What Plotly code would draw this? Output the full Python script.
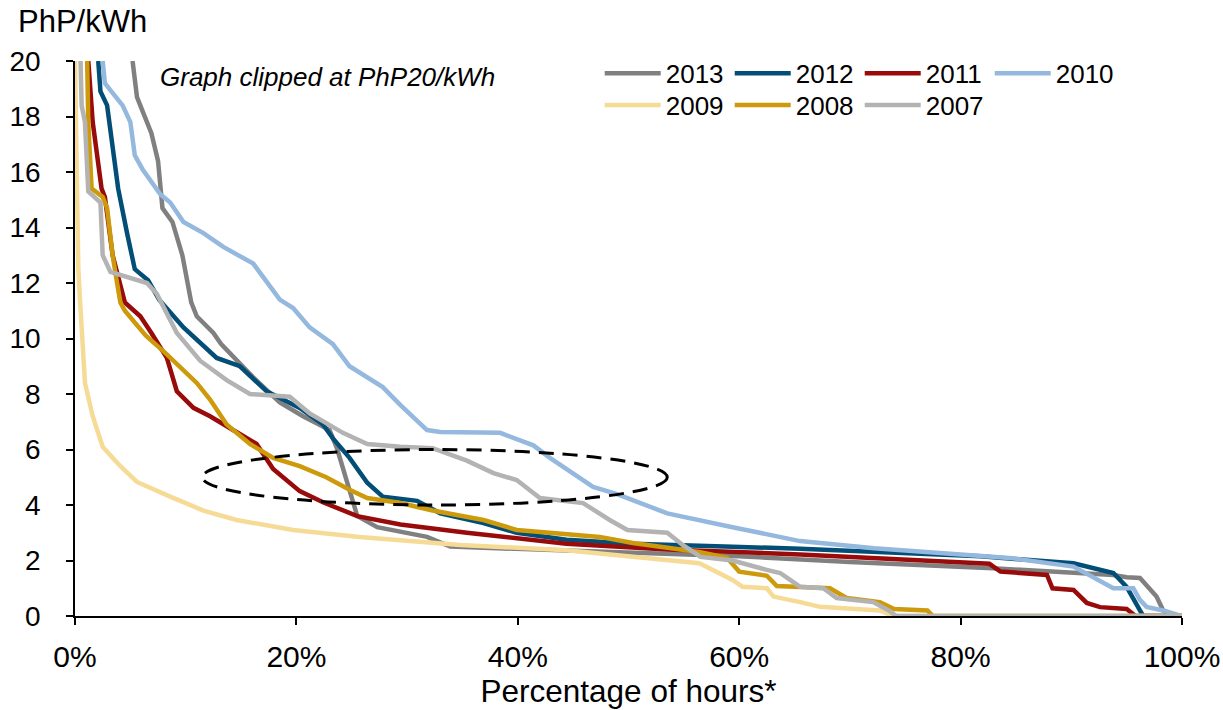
import plotly.graph_objects as go

# Percentage of hours (x, %) and price (PhP/kWh, y)
x2013 = [5.2, 5.6, 6.9, 7.5, 7.9, 8.8, 9.7, 10.2, 10.5, 11.0, 12.5, 13.2, 16.1, 18.5, 20.6, 23.0, 23.7, 24.6, 25.5, 27.3, 31.8, 33.9, 45.0, 60.0, 70.0, 82.9, 93.8, 95.0, 96.2, 97.7, 98.3, 99.4, 100.0]
y2013 = [20, 18.7, 17.4, 16.4, 14.7, 14.2, 13.0, 12.0, 11.3, 10.8, 10.2, 9.8, 8.6, 7.7, 7.2, 6.7, 6.0, 4.8, 3.6, 3.2, 2.85, 2.5, 2.35, 2.15, 1.95, 1.72, 1.48, 1.4, 1.37, 0.7, 0.2, 0, 0]

x2012 = [2.1, 2.3, 2.9, 3.3, 3.9, 4.7, 5.4, 6.6, 7.6, 9.8, 12.8, 14.9, 17.3, 20.3, 22.4, 23.3, 24.8, 26.4, 27.8, 30.9, 33.0, 36.9, 39.9, 44.4, 50.4, 59.4, 65.5, 81.8, 90.2, 93.8, 95.0, 96.2, 96.5, 100.0]
y2012 = [20, 18.9, 18.4, 17.2, 15.4, 13.8, 12.5, 12.1, 11.4, 10.4, 9.3, 9.0, 8.1, 7.5, 6.9, 6.4, 5.7, 4.8, 4.3, 4.15, 3.7, 3.35, 3.0, 2.75, 2.6, 2.5, 2.42, 2.15, 1.9, 1.55, 1.05, 0.2, 0, 0]

x2011 = [1.2, 1.6, 2.0, 2.4, 2.7, 3.4, 4.5, 5.9, 6.9, 8.3, 9.2, 10.7, 12.2, 14.3, 16.4, 17.9, 20.3, 22.4, 25.5, 29.4, 35.4, 44.4, 53.5, 65.5, 82.6, 83.6, 87.8, 88.3, 90.2, 91.4, 92.6, 95.0, 95.8, 100.0]
y2011 = [20, 17.8, 16.6, 15.4, 15.1, 13.0, 11.3, 10.8, 10.2, 9.3, 8.1, 7.5, 7.2, 6.7, 6.2, 5.3, 4.5, 4.1, 3.6, 3.3, 3.0, 2.6, 2.4, 2.22, 1.88, 1.6, 1.48, 1.0, 0.94, 0.47, 0.32, 0.25, 0, 0]

x2010 = [2.5, 2.7, 3.3, 4.3, 5.0, 5.4, 6.1, 7.7, 8.6, 9.8, 11.6, 13.4, 16.1, 18.5, 19.7, 21.2, 23.3, 24.8, 27.8, 29.4, 31.8, 33.0, 38.4, 41.4, 42.9, 46.8, 48.9, 53.5, 59.4, 65.5, 72.2, 84.7, 90.2, 92.6, 93.8, 95.6, 96.2, 96.8, 98.3, 100.0]
y2010 = [20, 19.2, 18.9, 18.4, 17.8, 16.6, 16.1, 15.2, 14.9, 14.2, 13.8, 13.3, 12.7, 11.4, 11.1, 10.4, 9.8, 9.0, 8.25, 7.6, 6.7, 6.63, 6.6, 6.15, 5.7, 4.65, 4.4, 3.7, 3.2, 2.7, 2.44, 2.08, 1.78, 1.23, 1.0, 1.0, 0.58, 0.33, 0.2, 0]

x2009 = [0.0, 0.2, 0.3, 0.45, 0.9, 1.6, 2.5, 4.1, 5.6, 8.6, 11.6, 14.6, 19.7, 25.7, 31.8, 34.8, 44.4, 56.4, 59.4, 60.3, 62.5, 63.1, 65.5, 67.3, 72.7, 73.9, 100.0]
y2009 = [20, 15, 12.5, 11.4, 8.4, 7.2, 6.1, 5.4, 4.83, 4.3, 3.8, 3.46, 3.1, 2.85, 2.67, 2.56, 2.37, 1.9, 1.3, 1.05, 1.0, 0.7, 0.5, 0.33, 0.2, 0, 0]

x2008 = [1.1, 1.2, 1.5, 2.5, 2.9, 3.4, 3.8, 4.1, 4.5, 6.4, 8.1, 11.0, 12.2, 13.7, 15.8, 17.9, 20.3, 22.7, 24.8, 26.4, 29.4, 32.3, 36.9, 39.9, 47.4, 50.4, 56.5, 58.9, 60.0, 62.5, 63.4, 68.2, 69.7, 72.7, 74.0, 77.0, 77.5, 100.0]
y2008 = [20, 17.8, 15.4, 15.1, 14.7, 13.0, 12.0, 11.3, 11.0, 10.1, 9.5, 8.4, 7.8, 6.9, 6.2, 5.7, 5.4, 5.0, 4.55, 4.25, 4.07, 3.8, 3.46, 3.1, 2.85, 2.63, 2.3, 2.1, 1.6, 1.45, 1.08, 1.0, 0.65, 0.5, 0.25, 0.2, 0, 0]

x2007 = [0.5, 0.6, 0.9, 1.2, 2.3, 2.5, 3.2, 6.5, 7.4, 9.2, 11.3, 13.7, 15.8, 19.4, 21.2, 24.2, 26.4, 29.4, 32.3, 35.4, 37.8, 39.9, 42.0, 45.9, 48.3, 49.9, 53.5, 54.9, 56.5, 59.4, 62.5, 63.7, 64.6, 65.5, 67.6, 68.8, 72.1, 73.5, 74.2, 100.0]
y2007 = [20, 18.4, 17.8, 15.3, 14.9, 13.0, 12.4, 12.0, 11.6, 10.2, 9.2, 8.5, 8.0, 7.9, 7.3, 6.6, 6.2, 6.1, 6.05, 5.6, 5.15, 4.9, 4.25, 4.07, 3.46, 3.1, 3.0, 2.56, 2.13, 2.0, 1.66, 1.55, 1.3, 1.05, 1.0, 0.65, 0.5, 0.2, 0, 0]

series_names = ["2013", "2012", "2011", "2010", "2009", "2008", "2007"]
series_x = [x2013, x2012, x2011, x2010, x2009, x2008, x2007]
series_y = [y2013, y2012, y2011, y2010, y2009, y2008, y2007]
series_colors = ["#808080", "#034E77", "#990A0A", "#95B8DE", "#F6DB96", "#CC9A0B", "#B3B3B3"]
series_legend_row = ["legend", "legend", "legend", "legend", "legend2", "legend2", "legend2"]

x_ticks = [0, 20, 40, 60, 80, 100]
y_ticks = [0, 2, 4, 6, 8, 10, 12, 14, 16, 18, 20]

FONT = "Arial, Liberation Sans, sans-serif"

fig = go.Figure()
for name, xs, ys, col, lg in zip(series_names, series_x, series_y, series_colors, series_legend_row):
    fig.add_trace(go.Scatter(x=xs, y=ys, mode="lines", name=name, legend=lg,
                             line=dict(color=col, width=4.5)))

fig.add_shape(type="circle", xref="x", yref="y", x0=11.5, x1=53.5, y0=4.0, y1=6.0,
              line=dict(color="black", width=3, dash="15px,9px"))

fig.add_annotation(text="Graph clipped at PhP20/kWh", xref="paper", yref="paper",
                   x=0.075, y=0.972, xanchor="left", yanchor="middle", showarrow=False,
                   font=dict(family=FONT, size=26, color="black", style="italic"))
fig.add_annotation(text="PhP/kWh", xref="paper", yref="paper",
                   x=-0.053, y=1.071, xanchor="left", yanchor="middle", showarrow=False,
                   font=dict(family=FONT, size=31, color="black"))

legend_common = dict(orientation="h", xanchor="left", yanchor="top",
                     entrywidth=59, entrywidthmode="pixels", itemwidth=56,
                     font=dict(family=FONT, size=26, color="black"),
                     bgcolor="rgba(0,0,0,0)", borderwidth=0)

fig.update_layout(
    width=1223, height=710,
    margin=dict(l=75, r=41, t=61, b=94, autoexpand=False),
    plot_bgcolor="white", paper_bgcolor="white",
    font=dict(family=FONT, size=28, color="black"),
    showlegend=True,
    legend=dict(x=0.474, y=1.02, **legend_common),
    legend2=dict(x=0.474, y=0.963, **legend_common),
    xaxis=dict(range=[0, 100], tickvals=x_ticks, ticktext=[f"{v}%" for v in x_ticks],
               showgrid=False, zeroline=False, showline=True, linecolor="black", linewidth=1.5,
               ticks="outside", ticklen=7, tickcolor="black", tickwidth=1.5, automargin=False,
               tickfont=dict(size=30), ticklabelstandoff=6,
               title=dict(text="Percentage of hours*", font=dict(size=31.5), standoff=6)),
    yaxis=dict(range=[0, 20], tickvals=y_ticks,
               showgrid=False, zeroline=False, showline=True, linecolor="black", linewidth=1.5,
               ticks="outside", ticklen=7, tickcolor="black", tickwidth=1.5, automargin=False,
               tickfont=dict(size=28), ticklabelstandoff=20),
)

fig.write_html("out.html")
